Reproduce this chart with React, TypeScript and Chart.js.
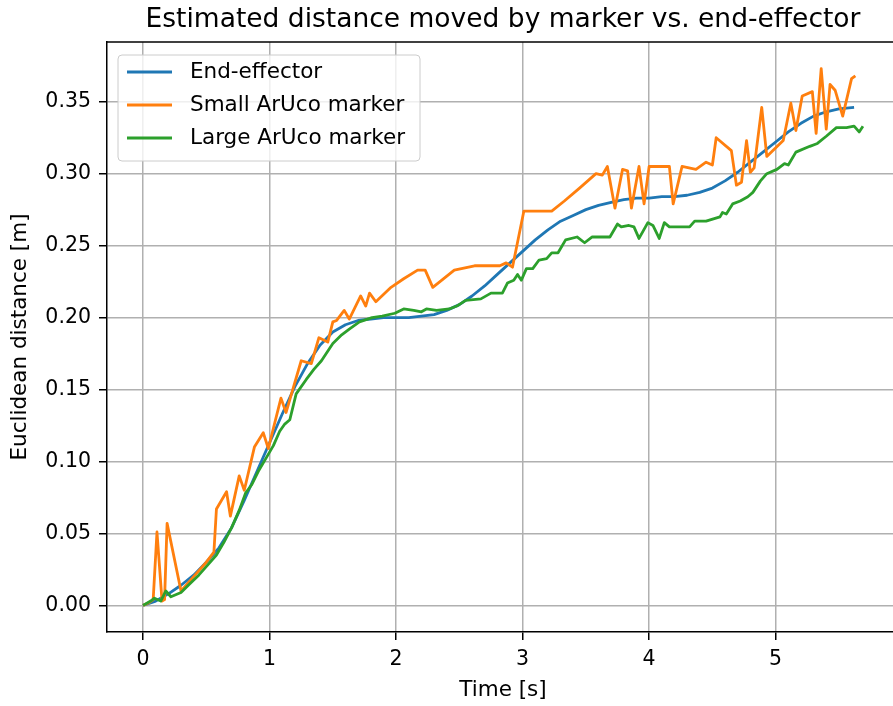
import React, { useEffect, useRef } from "react";
import { Chart, registerables } from "chart.js";

Chart.register(...registerables);

const chartTitle = "Estimated distance moved by marker vs. end-effector";
const xAxisTitle = "Time [s]";
const yAxisTitle = "Euclidean distance [m]";
const xTickValues = [0, 1, 2, 3, 4, 5];
const yTickValues = [0, 0.05, 0.1, 0.15, 0.2, 0.25, 0.3, 0.35];
const seriesLabels = ["End-effector", "Small ArUco marker", "Large ArUco marker"];
const seriesColors = ["#1f77b4", "#ff7f0e", "#2ca02c"];

const eeTime = [0, 0.1, 0.2, 0.3, 0.4, 0.5, 0.6, 0.7, 0.8, 0.9, 1.0, 1.1, 1.2, 1.3, 1.4, 1.5, 1.6, 1.7, 1.8, 1.9, 2.0, 2.1, 2.2, 2.3, 2.4, 2.5, 2.6, 2.7, 2.8, 2.9, 3.0, 3.1, 3.2, 3.3, 3.4, 3.5, 3.6, 3.7, 3.8, 3.9, 4.0, 4.1, 4.2, 4.3, 4.4, 4.5, 4.6, 4.7, 4.8, 4.9, 5.0, 5.1, 5.2, 5.3, 5.4, 5.5, 5.62];
const eeDist = [0, 0.003, 0.008, 0.014, 0.021, 0.030, 0.040, 0.054, 0.073, 0.093, 0.113, 0.133, 0.152, 0.168, 0.181, 0.190, 0.195, 0.198, 0.199, 0.200, 0.200, 0.200, 0.201, 0.202, 0.205, 0.209, 0.215, 0.222, 0.230, 0.238, 0.246, 0.254, 0.261, 0.267, 0.271, 0.275, 0.278, 0.280, 0.282, 0.283, 0.283, 0.284, 0.284, 0.285, 0.287, 0.290, 0.295, 0.301, 0.308, 0.315, 0.322, 0.329, 0.335, 0.340, 0.343, 0.345, 0.346];

const smallTime = [0, 0.05, 0.08, 0.11, 0.15, 0.17, 0.19, 0.3, 0.4, 0.5, 0.56, 0.58, 0.66, 0.69, 0.76, 0.8, 0.88, 0.95, 0.99, 1.09, 1.13, 1.25, 1.33, 1.39, 1.46, 1.5, 1.53, 1.59, 1.63, 1.72, 1.76, 1.79, 1.84, 1.96, 2.06, 2.17, 2.23, 2.29, 2.46, 2.62, 2.82, 2.87, 2.92, 3.01, 3.23, 3.33, 3.45, 3.58, 3.63, 3.67, 3.73, 3.79, 3.83, 3.86, 3.92, 3.96, 4.0, 4.16, 4.19, 4.26, 4.37, 4.45, 4.5, 4.53, 4.65, 4.69, 4.73, 4.77, 4.8, 4.83, 4.89, 4.93, 5.06, 5.12, 5.16, 5.21, 5.29, 5.32, 5.36, 5.4, 5.43, 5.47, 5.53, 5.6, 5.63];
const smallDist = [0, 0.002, 0.004, 0.051, 0.003, 0.004, 0.057, 0.010, 0.020, 0.030, 0.037, 0.067, 0.079, 0.062, 0.090, 0.080, 0.110, 0.120, 0.109, 0.144, 0.134, 0.170, 0.168, 0.186, 0.183, 0.197, 0.198, 0.205, 0.199, 0.215, 0.208, 0.217, 0.211, 0.221, 0.227, 0.233, 0.233, 0.221, 0.233, 0.236, 0.236, 0.238, 0.235, 0.274, 0.274, 0.281, 0.290, 0.300, 0.299, 0.305, 0.276, 0.303, 0.302, 0.276, 0.305, 0.279, 0.305, 0.305, 0.279, 0.305, 0.303, 0.308, 0.306, 0.325, 0.316, 0.292, 0.294, 0.323, 0.301, 0.304, 0.346, 0.312, 0.323, 0.349, 0.330, 0.354, 0.357, 0.328, 0.373, 0.331, 0.362, 0.358, 0.340, 0.366, 0.368];

const largeTime = [0, 0.06, 0.09, 0.14, 0.18, 0.22, 0.3, 0.37, 0.44, 0.51, 0.58, 0.64, 0.7, 0.76, 0.81, 0.86, 0.91, 0.97, 1.03, 1.08, 1.12, 1.16, 1.21, 1.29, 1.35, 1.41, 1.5, 1.57, 1.63, 1.71, 1.81, 1.89, 1.99, 2.06, 2.14, 2.2, 2.24, 2.32, 2.42, 2.48, 2.55, 2.67, 2.75, 2.84, 2.88, 2.93, 2.96, 2.99, 3.03, 3.08, 3.13, 3.19, 3.23, 3.28, 3.34, 3.43, 3.49, 3.55, 3.69, 3.75, 3.78, 3.84, 3.88, 3.92, 3.99, 4.03, 4.08, 4.12, 4.16, 4.32, 4.36, 4.45, 4.56, 4.58, 4.61, 4.66, 4.72, 4.78, 4.82, 4.88, 4.93, 5.01, 5.07, 5.1, 5.16, 5.27, 5.33, 5.4, 5.48, 5.56, 5.62, 5.66, 5.69];
const largeDist = [0, 0.003, 0.005, 0.003, 0.010, 0.006, 0.009, 0.015, 0.021, 0.028, 0.035, 0.044, 0.054, 0.066, 0.078, 0.084, 0.093, 0.102, 0.111, 0.121, 0.126, 0.129, 0.147, 0.157, 0.164, 0.170, 0.182, 0.188, 0.192, 0.197, 0.200, 0.201, 0.203, 0.206, 0.205, 0.204, 0.206, 0.205, 0.206, 0.208, 0.212, 0.213, 0.217, 0.217, 0.224, 0.226, 0.230, 0.226, 0.234, 0.234, 0.240, 0.241, 0.245, 0.245, 0.254, 0.256, 0.252, 0.256, 0.256, 0.265, 0.263, 0.264, 0.263, 0.255, 0.266, 0.264, 0.255, 0.266, 0.263, 0.263, 0.267, 0.267, 0.270, 0.273, 0.272, 0.279, 0.281, 0.284, 0.287, 0.295, 0.300, 0.303, 0.307, 0.306, 0.315, 0.319, 0.321, 0.326, 0.332, 0.332, 0.333, 0.329, 0.333];

const FONT = "'DejaVu Sans', sans-serif";

const pairs = (xs: number[], ys: number[]) => xs.map((x, i) => ({ x, y: ys[i] }));

const overlayPlugin = {
  id: "overlay",
  afterDraw(chart: any) {
    const { ctx, chartArea } = chart;
    ctx.save();
    // top spine
    ctx.strokeStyle = "#000";
    ctx.lineWidth = 1.5;
    ctx.beginPath();
    ctx.moveTo(chartArea.left, chartArea.top);
    ctx.lineTo(chartArea.right + 2, chartArea.top);
    ctx.stroke();
    // title
    ctx.fillStyle = "#000";
    ctx.font = `26.5px ${FONT}`;
    ctx.textAlign = "center";
    ctx.textBaseline = "alphabetic";
    ctx.fillText(chartTitle, (chartArea.left + chartArea.right) / 2, 27);
    // legend
    const bx = 118, by = 55, bw = 302, bh = 106, r = 4;
    ctx.beginPath();
    ctx.moveTo(bx + r, by);
    ctx.lineTo(bx + bw - r, by);
    ctx.arcTo(bx + bw, by, bx + bw, by + r, r);
    ctx.lineTo(bx + bw, by + bh - r);
    ctx.arcTo(bx + bw, by + bh, bx + bw - r, by + bh, r);
    ctx.lineTo(bx + r, by + bh);
    ctx.arcTo(bx, by + bh, bx, by + bh - r, r);
    ctx.lineTo(bx, by + r);
    ctx.arcTo(bx, by, bx + r, by, r);
    ctx.closePath();
    ctx.fillStyle = "rgba(255,255,255,0.8)";
    ctx.fill();
    ctx.strokeStyle = "#cccccc";
    ctx.lineWidth = 1;
    ctx.stroke();
    ctx.font = `21.5px ${FONT}`;
    ctx.textAlign = "left";
    ctx.textBaseline = "middle";
    seriesLabels.forEach((label, i) => {
      const y = 72 + i * 33;
      ctx.strokeStyle = seriesColors[i];
      ctx.lineWidth = 2.8;
      ctx.beginPath();
      ctx.moveTo(127, y);
      ctx.lineTo(172, y);
      ctx.stroke();
      ctx.fillStyle = "#000";
      ctx.fillText(label, 190, y);
    });
    ctx.restore();
  },
};

export default function App() {
  const ref = useRef<HTMLCanvasElement | null>(null);
  useEffect(() => {
    if (!ref.current) return;
    const datasets = [
      { label: seriesLabels[0], data: pairs(eeTime, eeDist), borderColor: seriesColors[0], order: 3 },
      { label: seriesLabels[1], data: pairs(smallTime, smallDist), borderColor: seriesColors[1], order: 2 },
      { label: seriesLabels[2], data: pairs(largeTime, largeDist), borderColor: seriesColors[2], order: 1 },
    ].map((d) => ({ ...d, borderWidth: 2.8, pointRadius: 0, fill: false, tension: 0, borderJoinStyle: "round" as const, borderCapStyle: "butt" as const }));

    const chart = new Chart(ref.current, {
      type: "line",
      data: { datasets },
      plugins: [overlayPlugin],
      options: {
        animation: false,
        responsive: false,
        devicePixelRatio: 1,
        layout: { padding: { top: 42, left: 0, right: 1, bottom: 0 } },
        plugins: { legend: { display: false }, tooltip: { enabled: false }, title: { display: false } },
        scales: {
          x: {
            type: "linear",
            min: -0.285,
            max: 5.975,
            afterBuildTicks: (s: any) => { s.ticks = xTickValues.map((v) => ({ value: v })); },
            afterFit: (s: any) => { s.height = 74; },
            ticks: { font: { family: FONT, size: 20.5 }, color: "#000", padding: 7, callback: (v: any) => String(v), maxRotation: 0 },
            grid: { color: "#b0b0b0", lineWidth: 1.5, tickColor: "#000", tickLength: 8, tickWidth: 1.5 },
            border: { color: "#000", width: 1.5 },
            title: { display: true, text: xAxisTitle, font: { family: FONT, size: 21.5 }, color: "#000", padding: { top: 0, bottom: 3 } },
          },
          y: {
            type: "linear",
            min: -0.0185,
            max: 0.3915,
            afterBuildTicks: (s: any) => { s.ticks = yTickValues.map((v) => ({ value: v })); },
            afterFit: (s: any) => { s.width = 107; },
            ticks: { font: { family: FONT, size: 20.5 }, color: "#000", padding: 8, callback: (v: any) => Number(v).toFixed(2) },
            grid: { color: "#b0b0b0", lineWidth: 1.5, tickColor: "#000", tickLength: 8, tickWidth: 1.5 },
            border: { color: "#000", width: 1.5 },
            title: { display: true, text: yAxisTitle, font: { family: FONT, size: 21.5 }, color: "#000", padding: { top: 8, bottom: 0 } },
          },
        },
      },
    } as any);
    return () => chart.destroy();
  }, []);
  return (
    <div style={{ position: "absolute", left: 0, top: 0, width: 893, height: 706, overflow: "hidden", background: "#fff" }}>
      <canvas ref={ref} width={900} height={706} style={{ display: "block", width: 900, height: 706 }} />
    </div>
  );
}
